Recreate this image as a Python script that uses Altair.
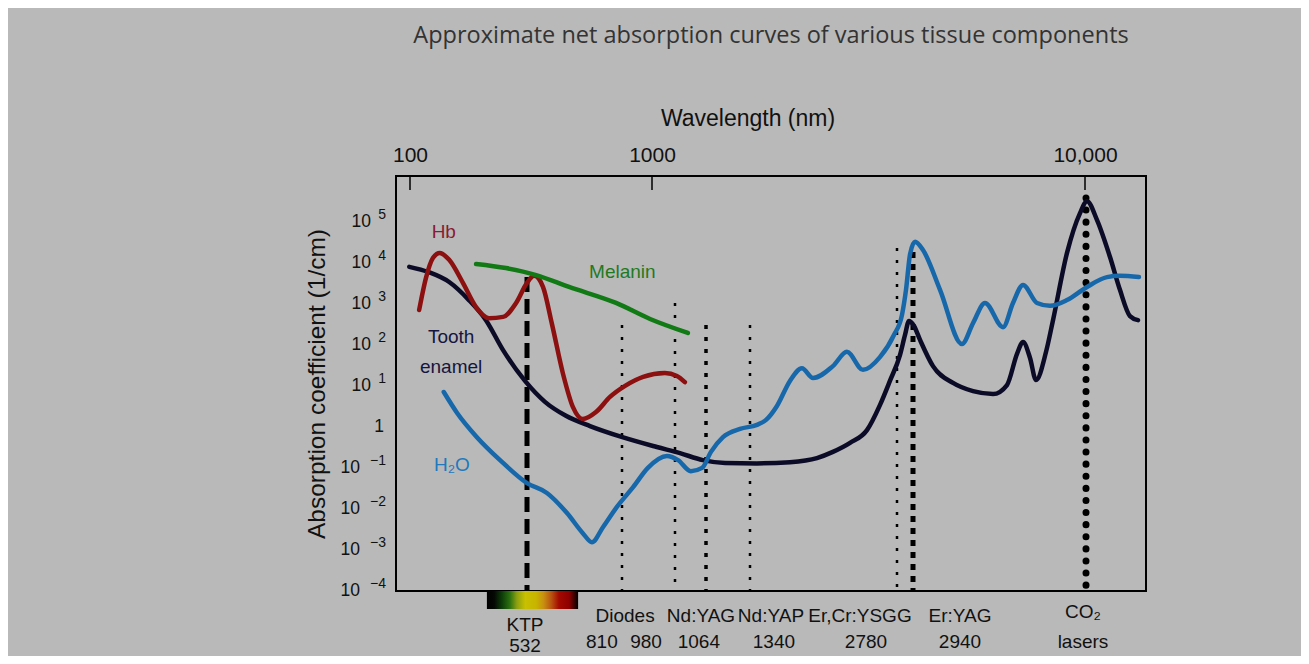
import altair as alt
import pandas as pd

TITLE = "Approximate net absorption curves of various tissue components"
X_TITLE = "Wavelength (nm)"
Y_TITLE = "Absorption coefficient (1/cm)"

# ---- axis ticks ----
top_tick_values = [100, 1000, 10000]
top_tick_labels = ["100", "1000", "10,000"]
y_tick_exponents = [-4, -3, -2, -1, 0, 1, 2, 3, 4, 5]
y_tick_bases = ["10", "10", "10", "10", "1", "10", "10", "10", "10", "10"]
y_tick_powers = ["−4", "−3", "−2", "−1", "", "1", "2", "3", "4", "5"]

# ---- curves: wavelength (nm) and log10 of absorption coefficient (1/cm) ----
tooth_wl = [99, 131, 175, 232, 296, 378, 517, 576, 632, 703,
            811, 918, 993, 1055, 1176, 1387, 1634, 1868, 2022, 2202,
            2395, 2554, 2684, 2809, 2859, 2899, 2962, 3097, 3410, 3955,
            4589, 5322, 5901, 6357, 6647, 7000, 7317, 7883, 8300, 9208,
            10140, 10662, 11300, 12180, 12900, 13670, 14320]
tooth_log = [3.90, 3.77, 3.53, 3.09, 2.60, 1.87, 1.12, 0.61, 0.27, 0.02,
             -0.25, -0.49, -0.64, -0.81, -0.88, -0.89, -0.86, -0.76, -0.61, -0.39,
             -0.08, 0.53, 1.12, 1.75, 2.24, 2.58, 2.46, 2.12, 1.48, 1.07,
             0.87, 0.80, 1.02, 1.78, 2.07, 1.68, 1.14, 1.83, 2.60, 4.24,
             5.21, 5.50, 5.04, 4.14, 3.34, 2.70, 2.60]

h2o_wl = [162, 196, 260, 362, 532, 581, 635, 681, 709, 745,
          792, 843, 889, 952, 988, 1022, 1053, 1092, 1163, 1272,
          1387, 1451, 1532, 1634, 1734, 1832, 2022, 2168, 2348, 2554,
          2738, 2829, 2869, 2910, 2984, 3166, 3592, 4227, 4589, 5013,
          5731, 6170, 6647, 7371, 8117, 9208, 10662, 11970, 12900, 14400]
h2o_log = [0.85, 0.34, -0.25, -0.81, -1.37, -1.61, -2.10, -2.59, -2.81, -2.44,
           -1.95, -1.47, -1.00, -0.71, -0.81, -1.08, -1.00, -0.61, -0.25, -0.05,
           0.05, 0.17, 0.51, 1.12, 1.43, 1.19, 1.48, 1.83, 1.39, 1.70,
           2.24, 2.73, 3.34, 4.21, 4.51, 4.31, 3.34, 2.02, 2.53, 3.02,
           2.43, 3.02, 3.46, 3.02, 2.95, 3.09, 3.41, 3.65, 3.68, 3.65]

hb_wl = [114, 126, 139, 153, 175, 213, 257, 309, 378, 455,
         532, 549, 571, 594, 624, 652, 681, 722, 768, 819,
         874, 945, 985, 1006]
hb_log = [2.85, 3.65, 4.12, 4.24, 4.07, 3.51, 2.92, 2.65, 2.68, 3.02,
          3.51, 3.68, 3.41, 2.51, 1.29, 0.48, 0.19, 0.36, 0.73, 1.00,
          1.22, 1.31, 1.24, 1.09]

melanin_wl = [257, 394, 554, 641, 789, 896, 1014]
melanin_log = [3.97, 3.87, 3.70, 3.41, 3.02, 2.63, 2.29]

series_names = ["Tooth enamel", "H2O", "Hb", "Melanin"]
series_colors = ["#0b0b28", "#1768aa", "#8c1010", "#117a14"]

# ---- laser lines ----
laser_wl = [532, 810, 980, 1064, 1340, 2780, 2940, 10600]
laser_top_log = [3.65, 2.48, 3.02, 2.48, 2.48, 4.36, 4.26, 5.58]
axis_floor = 1e-4

# ---- annotation texts ----
curve_label_text = ["Hb", "Melanin", "Tooth", "enamel", "H₂O"]
curve_label_wl = [162, 811, 180, 180, 182]
curve_label_log = [4.75, 3.77, 2.19, 1.46, -0.93]
curve_label_colors = ["#8b1a33", "#1f7a1f", "#15153f", "#15153f", "#2079bd"]

laser_name_text = ["KTP", "Diodes", "Nd:YAG", "Nd:YAP", "Er,Cr:YSGG", "Er:YAG", "CO₂"]
laser_name_wl = [517, 819, 1050, 1487, 2313, 4165, 10366]
laser_num_text = ["532", "810", "980", "1064", "1340", "2780", "2940", "lasers"]
laser_num_wl = [517, 741, 883, 1044, 1509, 2383, 4165, 10366]

spectrum_start_wl = [300]
spectrum_end_wl = [667]

# ---- tables ----
rows = []
for name, wls, logs in [("Tooth enamel", tooth_wl, tooth_log), ("H2O", h2o_wl, h2o_log),
                        ("Hb", hb_wl, hb_log), ("Melanin", melanin_wl, melanin_log)]:
    for i, (w, l) in enumerate(zip(wls, logs)):
        rows.append({"series": name, "wl": w, "absorption": 10 ** l, "order": i})
curves_df = pd.DataFrame(rows)

lasers_df = pd.DataFrame({"wl": laser_wl, "top": [10 ** v for v in laser_top_log],
                          "bottom": [axis_floor] * len(laser_wl)})
clabels_df = pd.DataFrame({"text": curve_label_text, "wl": curve_label_wl,
                           "absorption": [10 ** v for v in curve_label_log],
                           "color": curve_label_colors})
names_df = pd.DataFrame({"text": laser_name_text, "wl": laser_name_wl})
nums_df = pd.DataFrame({"text": laser_num_text, "wl": laser_num_wl})
spec_df = pd.DataFrame({"wl": spectrum_start_wl, "wl_end": spectrum_end_wl})
top_df = pd.DataFrame({"wl": top_tick_values})
yticks_df = pd.DataFrame({"value": [10.0 ** e for e in y_tick_exponents], "exp": y_tick_exponents,
                          "base": y_tick_bases, "power": y_tick_powers})

# ---- scales ----
W, H = 750, 415
x_scale = alt.Scale(type="log", nice=False,
                    domain=[82, 100, 532, 810, 980, 1064, 1340, 2780, 2940, 10600, 15000],
                    range=[0, 14, 131, 226, 279, 310, 354, 501, 517, 690, 750])
y_scale = alt.Scale(type="log", nice=False, domain=[1e-4, 1.3e6])

FONT = "Liberation Sans"
INK = "#111111"

y_axis = alt.Axis(title=Y_TITLE, labels=False, ticks=False, domain=False, grid=False,
                  titleFont=FONT, titleFontSize=24.5, titleFontWeight="normal",
                  titleColor=INK, titlePadding=67)


def X(field):
    return alt.X(field, type="quantitative", scale=x_scale, axis=None)


def Y(field):
    return alt.Y(field, type="quantitative", scale=y_scale, axis=y_axis)


# visible spectrum bar under the KTP line
grad = alt.LinearGradient(
    gradient="linear", x1=0, x2=1, y1=0, y2=0,
    stops=[alt.GradientStop(color="#000000", offset=0.0),
           alt.GradientStop(color="#050805", offset=0.08),
           alt.GradientStop(color="#0d3a08", offset=0.16),
           alt.GradientStop(color="#2a7010", offset=0.25),
           alt.GradientStop(color="#8ea010", offset=0.33),
           alt.GradientStop(color="#c8c000", offset=0.42),
           alt.GradientStop(color="#c8b400", offset=0.54),
           alt.GradientStop(color="#c89010", offset=0.62),
           alt.GradientStop(color="#b85010", offset=0.71),
           alt.GradientStop(color="#a30a00", offset=0.79),
           alt.GradientStop(color="#900000", offset=0.90),
           alt.GradientStop(color="#000000", offset=1.0)])
bar = alt.Chart(spec_df).mark_rect(fill=grad).encode(
    x=X("wl"), x2="wl_end", y=alt.value(H), y2=alt.value(H + 18))

# y tick labels: base "10" with a raised exponent
ytxt = dict(font=FONT, align="right", baseline="middle", color=INK)
y_pow = alt.Chart(yticks_df).mark_text(fontSize=14, dy=-7, **ytxt).encode(
    x=alt.value(-10), y=Y("value"), text="power:N"
).transform_filter(alt.datum.exp != 0)
y_base_pos = alt.Chart(yticks_df).mark_text(fontSize=17.5, **ytxt).encode(
    x=alt.value(-25), y=Y("value"), text="base:N"
).transform_filter(alt.datum.exp > 0)
y_base_neg = alt.Chart(yticks_df).mark_text(fontSize=17.5, **ytxt).encode(
    x=alt.value(-36), y=Y("value"), text="base:N"
).transform_filter(alt.datum.exp < 0)
y_base_one = alt.Chart(yticks_df).mark_text(fontSize=17.5, **ytxt).encode(
    x=alt.value(-12), y=Y("value"), text="base:N"
).transform_filter(alt.datum.exp == 0)

# laser lines, each with its own dash style
laser_styles = [
    ([532], dict(strokeWidth=5, strokeDash=[15, 7])),
    ([810, 980, 1340, 2780], dict(strokeWidth=2.5, strokeDash=[3, 9])),
    ([1064], dict(strokeWidth=3.5, strokeDash=[4, 8])),
    ([2940], dict(strokeWidth=5, strokeDash=[6, 6])),
    ([10600], dict(strokeWidth=7, strokeDash=[0.1, 12], strokeCap="round")),
]
laser_layers = []
for wls, st in laser_styles:
    laser_layers.append(
        alt.Chart(lasers_df).mark_rule(color="black", **st).encode(
            x=X("wl"), y=Y("top"), y2="bottom"
        ).transform_filter(alt.FieldOneOfPredicate(field="wl", oneOf=wls)))

curves = alt.Chart(curves_df).mark_line(
    strokeWidth=4.5, interpolate="monotone", strokeCap="round", strokeJoin="round").encode(
    x=X("wl"), y=Y("absorption"),
    color=alt.Color("series:N", scale=alt.Scale(domain=series_names, range=series_colors), legend=None),
    detail="series:N", order="order:Q")

curve_labels = alt.Chart(clabels_df).mark_text(font=FONT, fontSize=19, align="center", baseline="middle").encode(
    x=X("wl"), y=Y("absorption"), text="text:N",
    color=alt.Color("color:N", scale=None))

txt = dict(font=FONT, fontSize=19, align="center", baseline="middle", color=INK)
names_main = alt.Chart(names_df).mark_text(**txt).encode(
    x=X("wl"), y=alt.value(H + 25), text="text:N"
).transform_filter(~alt.FieldOneOfPredicate(field="text", oneOf=["KTP", "CO₂"]))
name_ktp = alt.Chart(names_df).mark_text(**txt).encode(
    x=X("wl"), y=alt.value(H + 34), text="text:N"
).transform_filter(alt.FieldEqualPredicate(field="text", equal="KTP"))
name_co2 = alt.Chart(names_df).mark_text(**txt).encode(
    x=X("wl"), y=alt.value(H + 21), text="text:N"
).transform_filter(alt.FieldEqualPredicate(field="text", equal="CO₂"))
nums_main = alt.Chart(nums_df).mark_text(**txt).encode(
    x=X("wl"), y=alt.value(H + 51), text="text:N"
).transform_filter(alt.FieldOneOfPredicate(field="text", oneOf=[t for t in laser_num_text if t != "532"]))
num_ktp = alt.Chart(nums_df).mark_text(**txt).encode(
    x=X("wl"), y=alt.value(H + 55), text="text:N"
).transform_filter(alt.FieldEqualPredicate(field="text", equal="532"))

main = alt.layer(bar, *laser_layers, curves, curve_labels,
                 y_pow, y_base_pos, y_base_neg, y_base_one,
                 names_main, name_ktp, name_co2, nums_main, num_ktp)

# top wavelength axis as drawn in the figure
top_label_expr = "datum.value < 300 ? '%s' : datum.value < 3000 ? '%s' : '%s'" % tuple(top_tick_labels)
top_axis = alt.Chart(top_df).mark_rule(color="black", strokeWidth=1.5).encode(
    x=alt.X("wl:Q",
            scale=alt.Scale(type="log", nice=False, domain=top_tick_values, range=[14, 256, 689]),
            axis=alt.Axis(orient="top", values=top_tick_values, labelExpr=top_label_expr,
                          title=X_TITLE, ticks=False, tickSize=0, domain=False, grid=False,
                          labelFlush=False, labelFont=FONT, labelFontSize=21, labelColor=INK,
                          labelPadding=11, titleFont=FONT, titleFontSize=23, titleFontWeight="normal",
                          titleColor=INK, titlePadding=14)),
    y=alt.value(0), y2=alt.value(14))

chart = alt.layer(main, top_axis).resolve_scale(x="independent").properties(
    width=W, height=H,
    title=alt.TitleParams(text=TITLE, font="Open Sans", fontSize=23.5, fontWeight="normal",
                          color="#333333", anchor="middle", frame="group", offset=60),
    autosize=alt.AutoSizeParams(type="none"),
    padding={"left": 388, "top": 168, "right": 155, "bottom": 65},
    background="#b9b9b9",
).configure_view(stroke="black", strokeWidth=2)

chart.save("out.html", embed_options={"renderer": "svg", "actions": False})
